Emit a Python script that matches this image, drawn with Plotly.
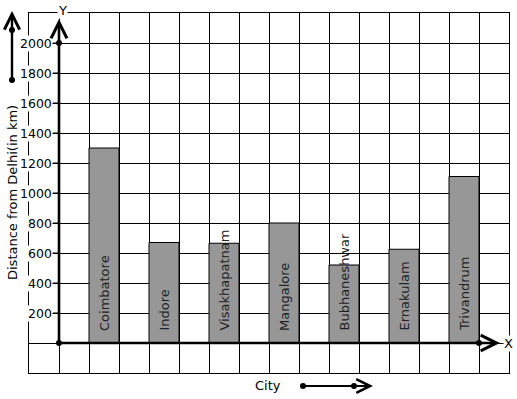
import plotly.graph_objects as go

# ---- data ----
cities = ["Coimbatore", "Indore", "Visakhapatnam", "Mangalore",
          "Bubhaneshwar", "Ernakulam", "Trivandrum"]
distances = [1300, 670, 665, 800, 520, 625, 1110]
y_tick_values = [200, 400, 600, 800, 1000, 1200, 1400, 1600, 1800, 2000]
y_title = "Distance from Delhi(in km)"
x_title = "City"

# ---- geometry ----
WIDTH, HEIGHT = 517, 399
L, T, W, H = 29, 13, 480, 360
X_RANGE = [-1, 15]
Y_RANGE = [-200, 2200]
FONT = "DejaVu Sans"


def px(xp):
    return (xp - L) / W


def py(yp):
    return (T + H - yp) / H


x_pos = [1.5 + 2 * i for i in range(len(cities))]

fig = go.Figure()
fig.add_trace(go.Bar(
    x=x_pos, y=distances, width=1,
    marker=dict(color="#979797", line=dict(color="black", width=1)),
    hoverinfo="skip", showlegend=False,
))

# dots on the axes
fig.add_trace(go.Scatter(
    x=[0, 0, 14], y=[0, 2000, 0], mode="markers",
    marker=dict(color="black", size=6), cliponaxis=False,
    showlegend=False, hoverinfo="skip",
))

shapes = []
annotations = []

# y tick labels + dashes
for v in y_tick_values:
    annotations.append(dict(
        x=0, y=v, xref="x", yref="y", text=str(v), showarrow=False,
        xanchor="right", yanchor="middle", xshift=-6, bgcolor="white",
        borderpad=0, font=dict(family=FONT, size=12.5, color="black"),
    ))
    shapes.append(dict(type="line", xref="x", yref="y", x0=-0.2, x1=0,
                       y0=v, y1=v, line=dict(color="black", width=1)))

# bar labels
for xc, name in zip(x_pos, cities):
    annotations.append(dict(
        x=xc, y=0, xref="x", yref="y", text=name, showarrow=False,
        textangle=-90, xanchor="center", yanchor="bottom", yshift=10,
        font=dict(family=FONT, size=13, color="#222"),
    ))

ARROW = dict(text="", showarrow=True, arrowhead=5, arrowcolor="black", standoff=0)

# axis arrows
annotations.append(dict(
    x=0, y=2160, xref="x", yref="y", ax=0, ay=0, axref="x", ayref="y",
    arrowsize=1.2, arrowwidth=2.6, **ARROW,
))
annotations.append(dict(
    x=14.7, y=0, xref="x", yref="y", ax=0, ay=0, axref="x", ayref="y",
    arrowsize=1.2, arrowwidth=2.6, **ARROW,
))
# axis letters
annotations.append(dict(
    x=px(62), y=py(10), xref="paper", yref="paper", text="Y",
    showarrow=False, bgcolor="white", borderpad=0,
    xanchor="center", yanchor="middle",
    font=dict(family=FONT, size=13, color="black"),
))
annotations.append(dict(
    x=px(508), y=py(343), xref="paper", yref="paper", text="X",
    showarrow=False, bgcolor="white", borderpad=0,
    xanchor="center", yanchor="middle",
    font=dict(family=FONT, size=13, color="black"),
))

# y title
annotations.append(dict(
    x=px(12), y=py(193), xref="paper", yref="paper", text=y_title,
    showarrow=False, textangle=-90, xanchor="center", yanchor="middle",
    font=dict(family=FONT, size=13, color="black"),
))
# left decorative arrow
annotations.append(dict(
    x=px(12), y=py(11), xref="paper", yref="paper", ax=0, ay=69,
    axref="pixel", ayref="pixel", arrowsize=1.25, arrowwidth=2.4, **ARROW,
))
# x title and arrow
annotations.append(dict(
    x=px(268), y=py(385), xref="paper", yref="paper", text=x_title,
    showarrow=False, xanchor="center", yanchor="middle",
    font=dict(family=FONT, size=13, color="black"),
))
annotations.append(dict(
    x=px(373), y=py(386), xref="paper", yref="paper", ax=-70, ay=0,
    axref="pixel", ayref="pixel", arrowsize=1.35, arrowwidth=2.0, **ARROW,
))

# paper dots
for (xp, yp) in [(12, 30), (12, 80), (303, 386), (354, 386)]:
    r = 3
    shapes.append(dict(type="circle", xref="paper", yref="paper",
                       x0=px(xp - r), x1=px(xp + r), y0=py(yp + r), y1=py(yp - r),
                       fillcolor="black", line=dict(color="black", width=0)))

fig.update_layout(
    width=WIDTH, height=HEIGHT,
    margin=dict(l=L, r=WIDTH - L - W, t=T, b=HEIGHT - T - H, autoexpand=False),
    paper_bgcolor="white", plot_bgcolor="white",
    shapes=shapes, annotations=annotations,
    font=dict(family=FONT),
    xaxis=dict(range=X_RANGE, dtick=1, tick0=0, showgrid=True,
               gridcolor="black", gridwidth=1, showticklabels=False,
               ticks="", zeroline=False, showline=True, mirror=True,
               linecolor="black", linewidth=1, fixedrange=True),
    yaxis=dict(range=Y_RANGE, dtick=200, tick0=0, showgrid=True,
               gridcolor="black", gridwidth=1, showticklabels=False,
               ticks="", zeroline=False, showline=True, mirror=True,
               linecolor="black", linewidth=1, fixedrange=True),
    bargap=0,
)

fig.write_html(
    "out.html",
    config={"displayModeBar": False, "staticPlot": True},
    post_script="document.body.style.margin='0px';document.body.style.overflow='hidden';",
)
